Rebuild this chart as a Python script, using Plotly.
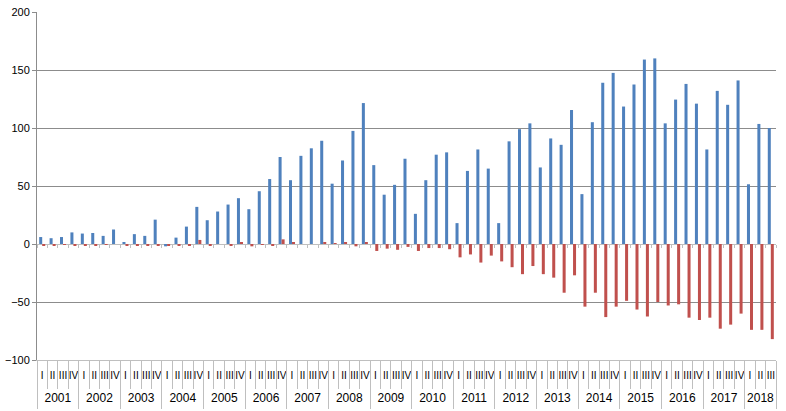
import plotly.graph_objects as go

years = [str(y) for y in range(2001, 2019)]
quarters = ["I", "II", "III", "IV"]

blue = [6, 5, 6, 10,
        9, 9.5, 7, 12.5,
        1, 8.5, 7, 21,
        -2, 5.5, 15, 32,
        20.5, 28, 34, 39.5,
        30, 45.5, 56, 75,
        55, 76, 82.5, 89,
        52, 72, 97.5, 121.5,
        68, 42.5, 51, 73.5,
        26, 55, 77, 79,
        18, 63, 81.5, 65,
        18, 88.5, 99, 104,
        66, 91, 85.5, 115.5,
        43, 105, 139, 147.5,
        118.5, 137.5, 159, 160,
        104, 124.5, 138, 121,
        81.5, 132, 120, 141,
        51.5, 103.5, 100]

red = [-1, -1, -0.5, -1,
       -1, -1, -0.5, 0,
       -1.5, -1.5, -1, -1,
       -1.5, -1, -1.5, 3.5,
       -1, 0, -1.5, 1,
       -2, -0.5, -1.5, 4,
       1, 0, 0, 1.5,
       0.5, 1.5, -2, 1.5,
       -6, -4, -5, -2.5,
       -6, -3.5, -3.5, -4.5,
       -11.5, -9, -16, -10,
       -15, -20, -26, -19,
       -26, -29, -42, -27,
       -54, -42, -63, -54,
       -49, -56.5, -62.5, -50,
       -53, -52, -63.5, -65.5,
       -63.5, -73, -69.5, -60,
       -74, -74, -82]

yticks = [-100, -50, 0, 50, 100, 150, 200]
y_range = [-100, 200]

# category labels built from years / quarters
cats, q_lab = [], []
year_centers, year_names, year_bounds = [], [], [-0.5]
for y in years:
    start = len(cats)
    for q in quarters:
        if len(cats) < len(blue):
            cats.append(f"{y} {q}")
            q_lab.append(q)
    n_in = len(cats) - start
    if n_in:
        year_centers.append(start + (n_in - 1) / 2)
        year_names.append(y)
        year_bounds.append(len(cats) - 0.5)
n = len(cats)
x_range = [-0.5, n - 0.5]
q_bounds = [i - 0.5 for i in range(n + 1)]

font_fam = "Liberation Sans Narrow, Liberation Sans, Arial"
SEP = "#BFBFBF"
GRID = "#8C8C8C"

fig = go.Figure()
fig.add_trace(go.Bar(x=cats, y=blue, marker_color="#4F81BD",
                     marker_line_width=0, name="A"))
fig.add_trace(go.Bar(x=cats, y=red, marker_color="#C0504D",
                     marker_line_width=0, name="B"))
# invisible helper traces so the overlay label axes get drawn
for ax in ["x2", "x3", "x4"]:
    fig.add_trace(go.Scatter(x=year_centers, y=[None] * len(year_centers),
                             xaxis=ax, yaxis="y", mode="markers",
                             showlegend=False, hoverinfo="skip"))

fig.update_layout(
    width=786, height=411,
    margin=dict(l=37, r=10, t=12, b=51),
    plot_bgcolor="white", paper_bgcolor="white",
    barmode="group", bargap=0.42, bargroupgap=0,
    showlegend=False,
    font=dict(family=font_fam, size=11, color="#000000"),
    xaxis=dict(
        type="category", range=x_range, automargin=False,
        tickmode="array", tickvals=cats, ticktext=q_lab, tickangle=0,
        ticks="", showgrid=False, showline=True, linecolor=SEP,
        tickfont=dict(size=10), ticklabelstandoff=6,
    ),
    xaxis2=dict(
        overlaying="x", anchor="y", side="bottom", type="linear",
        range=x_range, automargin=False, showgrid=False, zeroline=False,
        showline=False, tickmode="array", tickvals=year_centers,
        ticktext=year_names, ticks="", tickangle=0,
        tickfont=dict(size=12), ticklabelstandoff=29,
        minor=dict(tickmode="array", tickvals=year_bounds, ticks="outside",
                   ticklen=48, tickcolor=SEP, tickwidth=1, showgrid=False),
    ),
    xaxis3=dict(
        overlaying="x", anchor="y", side="bottom", type="linear",
        range=x_range, automargin=False, showgrid=False, zeroline=False,
        showline=False, tickmode="array", tickvals=q_bounds,
        ticks="outside", ticklen=28, tickcolor=SEP, tickwidth=1,
        showticklabels=False,
    ),
    xaxis4=dict(
        overlaying="x", anchor="free",
        position=(0 - y_range[0]) / (y_range[1] - y_range[0]),
        side="bottom", type="linear",
        range=x_range, automargin=False, showgrid=False, zeroline=False,
        showline=False, tickmode="array", tickvals=q_bounds,
        ticks="outside", ticklen=3, tickcolor=SEP, tickwidth=1,
        showticklabels=False,
    ),
    yaxis=dict(
        range=y_range, tickvals=yticks, automargin=False,
        showgrid=True, gridcolor=GRID, gridwidth=1,
        zeroline=True, zerolinecolor=SEP, zerolinewidth=1,
        showline=True, linecolor=GRID, linewidth=1,
        ticks="outside", ticklen=4, tickcolor=GRID,
        tickfont=dict(size=11),
    ),
)

fig.write_html("out.html", config={"displayModeBar": False},
               post_script="document.body.style.margin='0px';")
